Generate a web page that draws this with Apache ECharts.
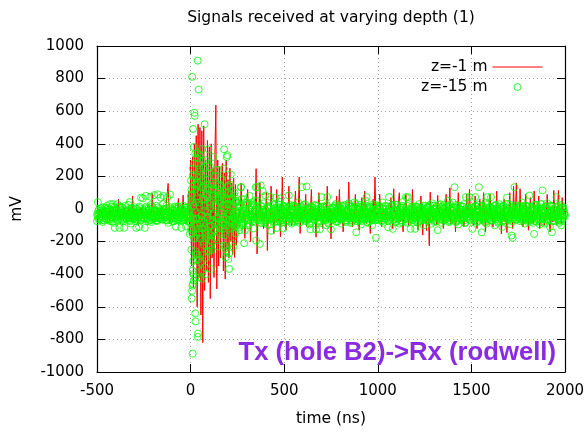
<!DOCTYPE html>
<html>
<head>
<meta charset="utf-8">
<script src="https://cdn.jsdelivr.net/npm/echarts@6/dist/echarts.min.js"></script>
<style>html,body{margin:0;padding:0;background:#fff;}#c{width:588px;height:433px;}</style>
</head>
<body>
<div id="c"></div>
<script>
// sample grid (ns)
const timeStart = -500;
const timeStep = 5;

// z=-1 m (red line), 5 ns samples, segments of 250 ns
const redA = [-20,-5,-40,0,-30,-10,-55,-15,-25,10, -45,-20,-30,5,-60,-10,-35,15,-25,-50, 0,-40,-15,60,-30,-55,-5,-20,-45,10, -25,-50,-10,-35,5,-40,-20,-60,80,-30, -10,-45,0,-25,-100,-15,-35,10,-50,-20];
const redB = [-10,-40,5,-30,-55,-15,-25,0,-45,95, -35,-10,-50,-20,5,-40,-65,-15,-30,10, -20,-55,-5,-35,-25,-45,157,-10,-90,-20, -40,0,-30,-55,-15,-25,5,65,-45,-20, -5,-35,85,-50,-10,-30,-75,0,110,-160];
const redC = [300,-350,320,-480,400,-300,450,-600,520,-420, 500,-650,480,-820,510,-500,300,-380,420,-450, 380,-550,400,-300,250,-420,350,637,-490,300, -350,260,-300,200,280,-380,220,-430,300,-250, 180,-300,250,-200,160,-280,190,-297,150,-220];
const redD = [-30,-80,0,-50,160,-20,-60,-10,-180,-30, -40,120,-55,-15,-200,-35,10,-60,-25,-45, 247,-276,-20,-50,160,-35,-70,0,-120,-25, -45,100,-255,-20,-10,-60,140,-40,-15,-150, -25,-55,120,-30,-70,0,-170,-20,196,-50];
const redE = [-20,-40,-130,0,-55,140,-35,-15,-100,-25, -50,5,110,-60,-30,-10,196,-150,-20,-45, -60,0,-35,90,-110,-20,-5,-50,-30,120, -45,-70,0,-25,-173,-15,-50,100,-20,-40, -10,-120,-30,-5,-55,-20,140,-80,-35,0];
const redF = [-183,-20,-45,-5,-60,-30,80,-40,-15,120, -55,-10,-40,-140,-25,5,-35,-60,-10,165, -50,-20,-35,-110,0,-40,90,-25,-55,-15, -130,-30,-5,70,-50,-20,110,-40,-90,-10, -25,-45,-150,0,-35,60,-30,196,-60,-15];
const redG = [-25,-50,90,-15,-110,-35,0,-45,-20,-60, -5,-30,-55,-15,70,-40,-120,124,-25,-10, -50,-30,-40,100,-80,-10,-35,-140,0,-20, 90,-45,-25,-100,-5,-35,-55,120,-20,-60, -15,-40,-5,-130,-30,-50,80,-20,-160,-10];
const redH = [-40,-20,-132,-5,-30,-225,103,-45,-15,-60, -25,-10,-50,-100,83,-35,-5,-55,-20,-40, -120,-15,-30,90,-50,-10,-40,130,-90,-20, -5,-45,-25,-140,-15,-35,100,-50,-10,-70, -30,-5,-110,-20,-45,90,-35,-15,120,-40];
const redI = [-50,-20,-100,-5,80,-35,-120,-15,-45,60, -25,-90,-10,100,-40,-140,-20,-5,-55,-30, 90,-60,-15,-110,-30,-5,-40,110,-50,-20, -35,-10,-153,-25,-45,60,-80,-20,-145,-10, -30,100,-55,-15,-120,140,-40,-20,160,-60];
const redJ = [-20,-60,124,-30,-10,-110,-40,-25,90,-50, -15,-130,-35,70,-45,-10,-90,110,-30,-20, -60,-5,80,-120,-25,-40,-10,-50,-100,-15, -35,90,-55,-20,-140,-5,-30,-80,114,-20, -45,-100,-10,114,-50,-25,-90,70,-35,-15, -20];

// z=-15 m (green circles), 5 ns samples, segments of 250 ns
const greenA = [-75,42,-30,-55,-10,-45,-80,-20,-40,5, -60,-35,-15,-70,30,-25,-50,30,-85,-116, -5,-40,30,-20,-116,-45,-30,10,-75,-116, -35,-55,-15,-40,-60,42,-90,-25,-60,0, -45,-20,-116,-30,-70,-110,-10,70,-50,65];
const greenB = [-35,-116,80,-20,-60,5,-45,75,-80,-25, -30,85,-55,-10,-70,90,-40,-15,70,-65, -20,80,-50,0,-35,70,-85,-25,88,-45, -60,-10,-40,15,-108,-30,-70,5,-50,-20, -116,-35,20,-65,-15,-108,-45,10,-75,-153];
const greenC = [-80,60,-150,20,-100,120,-60,150,-120,40, -180,100,-40,130,-90,60,-150,80,-20,150, -110,40,-160,120,-70,90,-130,30,-50,100, -90,140,-40,70,-120,20,-80,110,-60,30, -100,60,-30,90,-70,10,-50,80,-110,40];
const greenD = [-60,30,-110,10,134,-90,-20,60,-130,-40, 40,-100,-15,80,-70,-45,20,-120,-30,50, -194,134,-60,0,-214,145,-85,110,-25,-70, 83,-40,-95,10,-60,75,-134,-20,-75,30, -50,70,-117,-10,-65,25,65,-85,-35,-120];
const greenE = [-30,15,-70,-45,5,83,-60,-20,-90,20, -40,-75,10,-55,-25,40,-85,-15,-50,134, -35,0,-70,-20,138,-60,-5,-95,-125,-30, 10,-65,-40,25,-125,-50,-15,-80,-125,5, 73,-45,-70,15,-30,-100,73,-55,-20,-60];
const greenF = [-125,-40,10,-65,-25,30,-80,-45,0,-60, -20,-90,20,-50,-35,5,-70,-10,-55,35, -45,-85,15,-30,-60,40,-20,-143,-75,-5, -50,25,-95,-35,0,-65,-25,50,73,-80, -40,10,-60,-15,-100,30,-45,-70,-177,0];
const greenG = [-35,-70,15,-50,-20,40,-85,-30,5,-60, -45,-112,73,-15,-65,20,-122,-40,-10,-75, 25,-55,-25,-90,10,-40,-70,45,-30,-60, 73,-20,73,-80,-45,-122,0,-60,-35,15, -122,-50,-10,-85,30,-40,-65,5,-25,-100];
const greenH = [-45,20,-70,-30,10,-60,-15,-90,35,-50, -25,0,-75,-40,-130,25,-55,-20,-85,15, -35,-65,5,-45,-20,50,-81,30,-60,-10, 40,-50,134,-30,-75,10,-95,-40,20,-65, -15,-55,30,-85,73,-25,-45,5,73,-70];
const greenI = [-35,-122,10,-60,73,-20,-80,25,134,-50, -30,-143,0,-65,-15,40,-90,73,-40,10, -70,73,-25,-55,20,-100,-35,5,-75,-20, 30,-60,-40,-110,15,-45,-85,-10,70,-55, -30,25,-95,-163,-177,-20,134,-65,0,-40];
const greenJ = [-50,15,-75,-25,40,-60,-10,-90,20,-45, -20,-70,83,-35,-55,10,-85,-153,-30,25, -65,5,-40,-95,30,-20,114,-60,-80,-5, -45,35,-70,-25,-110,15,-143,-50,0,-75, -30,73,-60,20,-85,-40,-100,10,-55,-20, -40];

// z=-15 m, in-between samples (offset by half a step)
const green2A = [-40,-10,-65,-25,5,-50,-30,-70,-15,-45, 20,-55,-35,-5,-60,-20,-75,-40,10,-50, -25,-65,-10,-45,15,-35,-70,-20,-55,0, -30,-60,-15,25,-45,-75,-5,-40,-20,-60, 10,-35,-65,-25,-50,5,-70,-30,-10,-55];
const green2B = [-20,-60,15,-40,-75,-5,-50,25,-30,-65, -10,-45,-70,20,-35,-55,0,-25,-60,-15, 30,-50,-30,-70,5,-40,-20,-65,10,-45, -25,-75,-5,-55,-35,15,-60,-15,-45,-30, -70,0,-50,-20,-65,10,-40,-80,-10,-55];
const green2C = [-120,90,-60,200,-180,40,-90,160,-30,-140, 110,-70,60,-200,20,-110,130,-50,70,-160, 30,-100,150,-40,80,-130,10,-80,120,-60, 50,-120,90,-20,-90,60,-140,30,-60,100, -40,-80,20,-110,70,-30,-60,40,-90,10];
const green2D = [-50,20,-80,-30,60,-100,-10,-60,40,-70, -20,30,-90,-40,10,-55,-75,25,-35,-5, -65,50,-45,-15,-85,15,-30,-60,35,-50, -10,-70,5,-40,-95,20,-25,-55,0,-80, -35,10,-60,-20,45,-75,-40,-5,-65,15];
const green2E = [-45,-15,-70,10,-35,-60,25,-25,-80,-5, -50,15,-40,-70,0,-30,-55,20,-65,-20, -10,-45,30,-75,-35,5,-60,-25,-85,10, -40,-15,-65,20,-30,-50,0,-75,-20,-45, 15,-60,-35,-5,-70,25,-40,-90,-15,-55];
const green2F = [-25,5,-60,-40,20,-75,-15,-50,-30,10, -65,-35,-5,-55,25,-45,-80,-20,0,-60, -30,15,-70,-40,-10,-55,30,-25,-65,-45, 5,-35,-75,-15,20,-50,-30,-60,-5,-85, -20,10,-45,-70,-25,15,-55,-35,0,-65];
const green2G = [-40,20,-55,-15,-75,0,-30,-60,15,-45, -20,-70,5,-35,-50,25,-65,-10,-40,-80, 10,-25,-55,-5,-70,20,-45,-30,-60,0, -15,-85,30,-40,-20,-65,5,-50,-35,-10, -75,15,-45,-25,-55,0,-70,-30,20,-60];
const green2H = [-15,-50,10,-70,-35,25,-60,-20,-45,0, -80,-30,15,-55,-10,-65,30,-40,-25,-70, 5,-50,-15,-60,20,-35,-75,-5,-45,10, -65,-25,-55,25,-40,-15,-70,0,-30,-60, 15,-50,-20,-85,-35,5,-60,-10,-45,-25];
const green2I = [-30,10,-60,-45,20,-20,-75,-5,-50,-35, 15,-65,-25,0,-55,-80,25,-40,-15,-60, -30,5,-70,-45,-10,20,-55,-35,-85,0, -20,-60,15,-40,-70,-5,-30,-50,30,-65, -15,-45,10,-75,-25,-55,0,-35,-65,20];
const green2J = [-10,-55,15,-35,-70,0,-45,-25,20,-60, -80,-15,-40,10,-65,-30,25,-50,-20,-75, 5,-45,-35,-60,30,-10,-55,-25,-90,15, -40,-5,-65,-30,20,-50,-75,0,-20,-45, 10,-60,-35,-15,-70,25,-40,-55,-5,-30];

// z=-15 m, quarter-step samples
const green3A = [-30,-60,0,-45,-20,-70,10,-35,-55,-15, -65,5,-40,-25,-75,15,-50,-10,-30,-60, 0,-45,-70,-20,10,-55,-35,-5,-65,-25, 20,-50,-40,-10,-70,-30,5,-60,-15,-45, -25,-75,0,-40,-55,15,-20,-65,-35,-5];
const green3B = [-55,-25,5,-65,-40,-10,-70,-30,15,-50, -20,-60,-5,-45,-75,10,-35,-55,-15,-40, -65,0,-30,-50,20,-70,-20,-45,-5,-60, -35,-10,-75,5,-50,-25,-65,15,-40,-20, -55,-5,-70,-30,10,-45,-60,-15,-35,-80];
const green3C = [80,-130,40,-70,180,-20,-160,100,-60,20, -90,170,-40,-120,60,-10,-180,90,-50,130, -70,10,-140,60,-30,110,-90,20,-60,70, -110,40,-20,-80,90,-50,10,-100,60,-30, 30,-70,-10,60,-90,20,-40,-60,50,-20];
const green3D = [-30,-70,15,-45,-10,-60,-85,5,-25,-55, 25,-40,-65,0,-30,-50,35,-75,-20,-45, 10,-60,-35,-5,-70,20,-45,-15,-80,0, -35,-55,15,-25,-65,5,-45,-30,25,-60, -10,-40,-75,10,-25,-55,0,-35,-70,20];
const green3E = [-60,-20,5,-45,-75,15,-30,-55,-10,-65, 20,-40,-25,-70,0,-50,-15,-80,10,-35, -60,25,-45,-20,-65,5,-30,-50,15,-75, -10,-40,-60,0,-25,-55,20,-45,-70,-5, -35,10,-60,-25,-50,15,-80,-20,-40,0];
const green3F = [-45,-15,-65,10,-35,-55,-5,-75,20,-30, -50,0,-60,-25,15,-45,-70,-10,-40,25, -55,-20,-80,5,-35,-60,10,-25,-50,-5, -70,15,-40,-20,-65,0,-45,-30,20,-55, -15,-75,5,-35,-50,-10,-60,25,-40,-25];
const green3G = [-20,-55,10,-40,-70,0,-30,-60,20,-45, -15,-75,5,-35,-50,15,-25,-65,-5,-40, 25,-60,-20,-45,0,-80,-30,10,-55,-15, -40,20,-65,-25,-5,-50,15,-70,-35,0, -55,-20,10,-45,-75,5,-30,-60,-10,-40];
const green3H = [-50,0,-35,-70,15,-25,-55,-10,-65,20, -40,-20,-75,5,-45,-30,10,-60,-15,-50, 25,-35,-65,0,-40,-25,15,-70,-5,-55, -30,10,-45,-80,-15,20,-60,-35,-5,-50, 15,-25,-70,-40,0,-55,-20,10,-65,-30];
const green3I = [5,-45,-25,-70,15,-35,-55,0,-65,-15, -40,20,-50,-30,-80,10,-20,-60,-5,-45, 15,-70,-35,0,-55,-25,25,-40,-65,-10, -50,5,-30,-75,20,-45,-15,-60,0,-35, -70,10,-25,-55,-5,-40,20,-65,-30,-50];
const green3J = [-35,10,-60,-20,-45,20,-70,-5,-40,-55, 15,-25,-65,0,-30,-50,-10,-75,25,-45, -15,-60,5,-35,-80,10,-50,-20,-40,15, -65,-5,-30,-55,20,-45,-10,-70,0,-25, -50,15,-35,-60,-20,5,-75,-40,10,-30];

// z=-15 m points during the first arrival (time ns, value mV)
const greenBurstT = [38,8,43,20,22,13,75,16,25,35,61,96,179,193,196,121,91,47,179,215,2,38,64,11,56,100,117,268,348,197,
                     11,40,38,25,26,6,8,13,17,25,45,64,61,108,30,40,11,206,191,206,180,91,100,229,286,108,188,202,29,64,222,73,84,10,15,
                     5,12,18,23,28,33,41,48,52,58,66,70,78,82,88,94,103,112,126,133,140,148,155,163,172,185,200,210,235,245,
                     4,14,21,31,36,50,55,69,80,87,98,115,130,145,160,170,186,212,240,260];
const greenBurstV = [910,811,733,590,571,491,520,380,340,310,368,366,366,319,330,319,278,249,247,212,175,340,298,206,200,216,165,134,134,140,
                     -887,-764,-785,-641,-690,-549,-502,-460,-440,-420,-420,-378,-428,-368,-310,-310,-378,-368,-255,-272,-225,-255,-235,-231,-210,-190,-297,-307,-282,-282,-212,-358,-400,-470,-400,
                     120,250,-180,150,-260,200,280,-150,230,-120,180,-220,150,300,-170,120,260,-250,200,-180,150,240,-140,190,110,-160,140,-120,100,-100,
                     -250,-320,280,-350,-280,330,-330,250,-300,220,-260,-200,240,-230,180,-190,-240,150,-150,-130];

const xTicks = {min: -500, max: 2000, step: 500};
const yTicks = {min: -1000, max: 1000, step: 200};

const redVals = [].concat(redA, redB, redC, redD, redE, redF, redG, redH, redI, redJ);
const greenVals = [].concat(greenA, greenB, greenC, greenD, greenE, greenF, greenG, greenH, greenI, greenJ);
const green2Vals = [].concat(green2A, green2B, green2C, green2D, green2E, green2F, green2G, green2H, green2I, green2J);
const green3Vals = [].concat(green3A, green3B, green3C, green3D, green3E, green3F, green3G, green3H, green3I, green3J);
const redData = redVals.map((v, i) => [timeStart + i * timeStep, v]);
const greenData = greenVals.map((v, i) => [timeStart + i * timeStep, v])
  .concat(green2Vals.map((v, i) => [timeStart + timeStep / 2 + i * timeStep, v]))
  .concat(green3Vals.map((v, i) => [timeStart + timeStep / 4 + i * timeStep, v]))
  .concat(greenBurstT.map((t, i) => [t, greenBurstV[i]]));

const FONT = 'DejaVu Sans';
const chart = echarts.init(document.getElementById('c'), null, {renderer: 'canvas'});
const gridLine = {show: true, lineStyle: {color: '#a0a0a0', width: 1, type: [1, 3]}};
const tick = {show: true, inside: true, length: 8, lineStyle: {color: '#000', width: 1}};
const axisLine = {show: true, onZero: false, lineStyle: {color: '#000', width: 1.2}};
const plain = v => String(v);
chart.setOption({
  animation: false,
  backgroundColor: '#fff',
  grid: {left: 97, right: 23, top: 46, bottom: 61, containLabel: false},
  xAxis: [{
    type: 'value', min: xTicks.min, max: xTicks.max, interval: xTicks.step,
    axisLine: axisLine, axisTick: tick, splitLine: gridLine,
    axisLabel: {color: '#000', fontFamily: FONT, fontSize: 15, margin: 12, formatter: plain},
    name: 'time (ns)', nameLocation: 'middle', nameGap: 39,
    nameTextStyle: {color: '#000', fontFamily: FONT, fontSize: 15.5}
  }, {
    type: 'value', position: 'top', min: xTicks.min, max: xTicks.max, interval: xTicks.step,
    axisLine: axisLine, axisTick: tick, splitLine: {show: false}, axisLabel: {show: false}
  }],
  yAxis: [{
    type: 'value', min: yTicks.min, max: yTicks.max, interval: yTicks.step,
    axisLine: axisLine, axisTick: tick, splitLine: gridLine,
    axisLabel: {color: '#000', fontFamily: FONT, fontSize: 15, margin: 13, formatter: plain},
    name: 'mV', nameLocation: 'middle', nameGap: 72,
    nameTextStyle: {color: '#000', fontFamily: FONT, fontSize: 15.5}
  }, {
    type: 'value', position: 'right', min: yTicks.min, max: yTicks.max, interval: yTicks.step,
    axisLine: axisLine, axisTick: tick, splitLine: {show: false}, axisLabel: {show: false}
  }],
  legend: {
    orient: 'vertical', right: 40, top: 54, align: 'right',
    itemWidth: 50, itemHeight: 7, itemGap: 4,
    textStyle: {color: '#000', fontFamily: FONT, fontSize: 15.5, lineHeight: 15},
    data: [
      {name: 'z=-1 m', itemStyle: {color: 'rgba(0,0,0,0)', borderWidth: 0}, lineStyle: {color: '#ff0000', width: 1}},
      {name: 'z=-15 m', icon: 'circle', itemStyle: {color: 'rgba(0,0,0,0)', borderColor: '#00ff00', borderWidth: 1}}
    ]
  },
  graphic: [
    {type: 'text', x: 331, y: 18, style: {text: 'Signals received at varying depth (1)', font: '15.5px "DejaVu Sans"', fill: '#000', align: 'center', verticalAlign: 'middle'}},
    {type: 'text', x: 556, y: 353, z: 100, style: {text: 'Tx (hole B2)->Rx (rodwell)', font: 'bold 25.7px "Liberation Sans"', fill: '#8a2be2', align: 'right', verticalAlign: 'middle'}}
  ],
  series: [
    {
      name: 'z=-1 m', type: 'line', data: redData, symbol: 'none', showSymbol: false,
      lineStyle: {color: '#ff0000', width: 1}, itemStyle: {color: '#ff0000'}, z: 2
    },
    {
      name: 'z=-15 m', type: 'scatter', data: greenData, symbol: 'circle', symbolSize: 7,
      itemStyle: {color: 'rgba(0,0,0,0)', borderColor: '#00ff00', borderWidth: 1}, z: 3
    }
  ]
});
</script>
</body>
</html>
